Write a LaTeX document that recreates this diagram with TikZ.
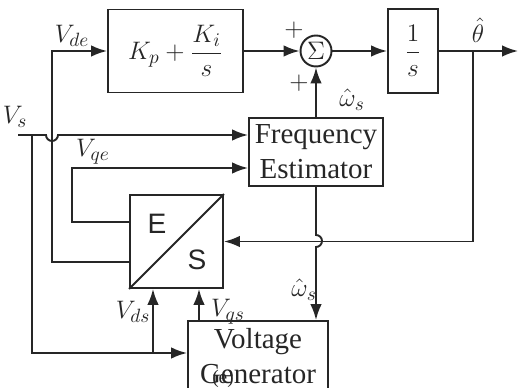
\documentclass[tikz,border=0pt]{standalone}
\usepackage{fontspec}
\setmainfont{Liberation Serif}
\newfontfamily\esfont{Liberation Sans}
\usetikzlibrary{arrows.meta}

\tikzset{blk/.style={draw, line width=1.1pt, inner sep=0pt, align=center},
         lbl/.style={inner sep=0pt, font=\fontsize{15}{18}\selectfont},
         txt/.style={font=\fontsize{16.5}{20}\selectfont}}

\begin{document}
\begin{tikzpicture}[x=0.02cm, y=-0.02cm, line width=1.1pt, >={Latex[length=9pt,width=6.5pt]},
                    font=\fontsize{15}{18}\selectfont, color=black!85]
  \useasboundingbox (0,0) rectangle (520,388);
  \clip (0,0) rectangle (520,388);
  % blocks
  \node[blk, minimum width=2.7cm, minimum height=1.66cm] (pi) at (175.5,51) {$\displaystyle K_p+\frac{K_i}{s}$};
  \node[blk, circle, minimum size=0.62cm] (sum) at (316,51) {$\Sigma$};
  \node[blk, minimum width=1cm, minimum height=1.68cm] (integ) at (413,51) {$\displaystyle\frac{1}{s}$};
  \node[blk, txt, minimum width=2.68cm, minimum height=1.36cm] (freq) at (316,152) {Frequency\\Estimator};
  \node[blk, minimum size=1.86cm] (es) at (176.5,241.5) {};
  \node[blk, txt, minimum width=2.8cm, minimum height=1.4cm] (vgen) at (258,356) {Voltage\\Generator};
  \draw (es.south west) -- (es.north east);
  \node[font=\esfont\fontsize{16}{18}\selectfont] (e) at (157,224) {E};
  \node[font=\esfont\fontsize{16}{18}\selectfont] (s) at (197,260) {S};
  % points of the wiring
  \coordinate (out) at (518,51);
  \coordinate (tb) at (473,51);
  \coordinate (vsin) at (18,135);
  \coordinate (vsb) at (32,135);
  \coordinate (vsc) at (32,353);
  \coordinate (vds) at (153,353);
  \coordinate (vdeb) at (52,262);
  \coordinate (vqe) at (72,222);
  \coordinate (vqt) at (72,168);
  \coordinate (vqs) at (199,322);
  % signals
  \draw[->] (pi.east) -- (sum.west);
  \draw[->] (sum.east) -- (integ.west);
  \draw[->] (integ.east) -- (out);
  \draw[->] (freq.north) -- (sum.south);
  \draw[->] (tb) |- (es.east);
  \draw[->] (vsin) -- (46,135) arc[start angle=180, end angle=360, radius=0.12cm] -- (freq.west |- vsin);
  \draw[->] (vsb) -- (vsc) -- (vgen.west |- vsc);
  \draw[->] (vds) -- (vds |- es.south);
  \draw[->] (es.west |- vdeb) -- (vdeb) |- (pi.west);
  \draw[->] (es.west |- vqe) -- (vqe) -- (vqt) -- (freq.west |- vqt);
  \draw[->] (vqs |- vgen.north) -- (vqs |- es.south);
  \draw[->] (freq.south) -- (316,235) arc[start angle=90, end angle=-90, radius=0.12cm] -- (freq.south |- vgen.north);
  % labels
  \node[lbl] (lvde) at (72,36) {$V_{de}$};
  \node[lbl] (lvs) at (15,117) {$V_s$};
  \node[lbl] (lvqe) at (93,152) {$V_{qe}$};
  \node[lbl] (lvds) at (133,312) {$V_{ds}$};
  \node[lbl] (lvqs) at (228,312) {$V_{qs}$};
  \node[lbl] (lw1) at (352,100) {$\hat{\omega}_s$};
  \node[lbl] (lw2) at (304,290) {$\hat{\omega}_s$};
  \node[lbl] (lth) at (478,30) {$\hat{\theta}$};
  \node[lbl] (lp1) at (294,30) {$+$};
  \node[lbl] (lp2) at (299,83) {$+$};
  \node[inner sep=0pt, font=\fontsize{11}{13}\selectfont] (cap) at (223,379) {(e)};
\end{tikzpicture}
\end{document}
